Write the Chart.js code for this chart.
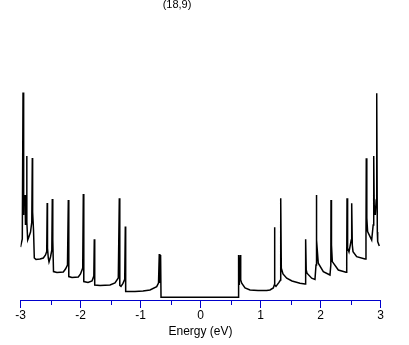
<!DOCTYPE html>
<html>
<head>
<meta charset="utf-8">
<script src="https://cdn.jsdelivr.net/npm/chart.js@4.4.0/dist/chart.umd.min.js"></script>
<style>
html,body{margin:0;padding:0;background:#fff;}
#wrap{width:409px;height:345px;position:relative;}
</style>
</head>
<body>
<div id="wrap"><canvas id="c" width="409" height="345"></canvas></div>
<script>
// Energy (eV) sample points
const energy = [
 -3.000,-2.970,-2.958,-2.953,-2.942,-2.925,-2.917,-2.903,-2.897,-2.892,-2.880,-2.867,-2.833,-2.812,-2.803,-2.798,-2.783,-2.770,
 -2.742,-2.675,-2.620,-2.583,-2.563,-2.555,-2.550,-2.537,-2.525,-2.500,-2.478,-2.470,-2.462,-2.450,
 -2.392,-2.287,-2.250,-2.217,-2.203,-2.195,-2.142,-2.037,-2.000,-1.963,-1.953,-1.948,-1.942,
 -1.875,-1.808,-1.778,-1.770,-1.763,-1.675,-1.508,-1.425,-1.370,-1.353,-1.345,-1.325,-1.292,-1.263,-1.253,-1.247,
 -1.092,-0.958,-0.842,-0.730,-0.700,-0.687,-0.678,-0.665,-0.658,
 0.630,0.635,0.647,0.663,0.670,0.687,0.742,0.825,0.958,1.103,1.158,1.213,1.230,1.233,1.240,
 1.258,1.308,1.333,1.337,1.347,1.375,1.437,1.525,1.658,1.742,1.752,1.753,1.762,1.775,1.853,1.908,
 1.925,1.930,1.938,1.963,2.047,2.158,2.172,2.175,2.183,2.197,2.297,2.425,2.437,2.442,2.452,2.475,
 2.512,2.520,2.530,2.542,2.603,2.742,2.758,2.763,2.772,2.785,2.853,2.878,2.887,2.895,2.913,2.928,
 2.937,2.947,2.953,2.980
];
// Density of states (arbitrary units) at those energies
const dos = [
 0.264,0.305,1.038,0.425,0.475,0.525,0.375,0.450,0.720,0.390,0.300,0.310,0.340,0.390,0.710,0.440,0.350,0.210,
 0.203,0.205,0.210,0.225,0.243,0.485,0.260,0.210,0.190,0.215,0.250,0.505,0.300,0.142,
 0.138,0.140,0.155,0.175,0.500,0.117,0.113,0.115,0.130,0.160,0.530,0.320,0.092,
 0.088,0.095,0.120,0.304,0.075,0.073,0.075,0.085,0.110,0.509,0.073,0.068,0.083,0.103,0.367,0.042,
 0.043,0.045,0.050,0.067,0.085,0.230,0.085,0.225,0.014,
 0.014,0.225,0.075,0.225,0.100,0.084,0.060,0.050,0.047,0.047,0.050,0.060,0.075,0.364,0.075,
 0.068,0.088,0.100,0.509,0.159,0.130,0.109,0.095,0.084,0.080,0.115,0.304,0.150,0.134,0.109,0.103,
 0.175,0.525,0.300,0.184,0.142,0.125,0.175,0.500,0.275,0.192,0.150,0.139,0.190,0.509,0.259,0.240,
 0.300,0.484,0.275,0.242,0.217,0.205,0.300,0.709,0.410,0.342,0.300,0.375,0.720,0.475,0.425,0.500,
 1.034,0.340,0.292,0.270
];
const majorTicks = [-3,-2,-1,0,1,2,3];
const minorTicks = [-2.5,-1.5,-0.5,0.5,1.5,2.5];
const titleText = "(18,9)";
const xTitle = "Energy (eV)";

const axisBlue = '#0000cc';
const points = energy.map((e,i)=>({x:e,y:dos[i]}));

const minorTickPlugin = {
  id:'minorTicks',
  afterDraw(chart){
    const s = chart.scales.x, ctx = chart.ctx;
    const y0 = chart.chartArea.bottom;
    ctx.save();
    ctx.strokeStyle = axisBlue; ctx.lineWidth = 1;
    ctx.beginPath();
    minorTicks.forEach(v=>{
      const px = Math.round(s.getPixelForValue(v))+0.5;
      ctx.moveTo(px, y0); ctx.lineTo(px, y0+5);
    });
    ctx.stroke();
    ctx.fillStyle = '#000';
    ctx.font = '11px "Liberation Sans", Arial, sans-serif';
    ctx.textAlign = 'center'; ctx.textBaseline = 'alphabetic';
    ctx.fillText(titleText, 177, 8);
    ctx.restore();
  }
};

new Chart(document.getElementById('c'), {
  type:'line',
  data:{datasets:[{data:points, borderColor:'#000', borderWidth:1.5, pointRadius:0, tension:0, fill:false}]},
  options:{
    responsive:false, animation:false,
    layout:{padding:{left:20.5, right:28.5, top:20, bottom:0}},
    plugins:{legend:{display:false}, tooltip:{enabled:false}, title:{display:false}},
    scales:{
      x:{type:'linear', min:-3, max:3,
        afterBuildTicks(s){ s.ticks = majorTicks.map(v=>({value:v})); },
        afterFit(s){ s.height = 45; },
        border:{display:true, color:axisBlue, width:1},
        grid:{drawOnChartArea:false, drawTicks:true, tickLength:8, color:axisBlue},
        ticks:{color:'#000', padding:0, maxRotation:0, autoSkip:false,
          font:{family:'"Liberation Sans", Arial, sans-serif', size:12}},
        title:{display:true, text:xTitle, color:'#000', padding:{top:0,bottom:6},
          font:{family:'"Liberation Sans", Arial, sans-serif', size:12}}
      },
      y:{display:false, min:0, max:1.4}
    }
  },
  plugins:[minorTickPlugin]
});
</script>
</body>
</html>
